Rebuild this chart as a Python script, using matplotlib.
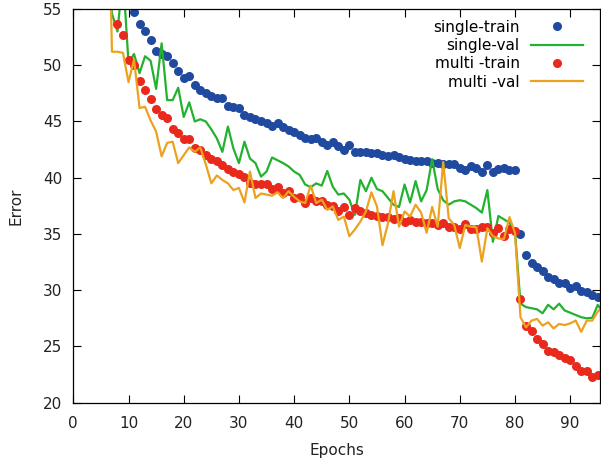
import numpy as np
import matplotlib
matplotlib.use("Agg")
import matplotlib.pyplot as plt

# ---- data ----
single_train_start = 11
single_train = [54.7, 53.7, 53.0, 52.2, 51.3, 51.0, 50.8, 50.2, 49.5, 48.9,
                49.0, 48.2, 47.8, 47.5, 47.3, 47.1, 47.1, 46.4, 46.3, 46.2,
                45.6, 45.4, 45.2, 45.0, 44.85, 44.6, 44.9, 44.55, 44.2, 44.1,
                43.8, 43.5, 43.4, 43.5, 43.2, 42.9, 43.2, 42.8, 42.5, 42.9,
                42.3, 42.3, 42.27, 42.2, 42.2, 42.0, 41.95, 42.0, 41.8, 41.65,
                41.6, 41.5, 41.5, 41.45, 41.35, 41.3, 41.25, 41.2, 41.2, 40.85,
                40.65, 41.0, 40.85, 40.55, 41.15, 40.55, 40.75, 40.85, 40.65, 40.65,
                35.0, 33.15, 32.4, 32.1, 31.7, 31.2, 31.0, 30.6, 30.6, 30.2,
                30.35, 29.9, 29.8, 29.6, 29.4]

multi_train_start = 8
multi_train = [53.7, 52.7, 50.5, 50.0, 48.6, 47.8, 47.0, 46.1, 45.6, 45.3,
               44.3, 44.0, 43.4, 43.4, 42.6, 42.5, 42.0, 41.7, 41.5, 41.1,
               40.8, 40.55, 40.3, 40.05, 39.5, 39.45, 39.4, 39.45, 39.0, 39.15,
               38.6, 38.8, 38.2, 38.3, 37.75, 38.2, 37.9, 37.9, 37.6, 37.45,
               37.0, 37.4, 36.7, 37.3, 37.0, 36.85, 36.7, 36.6, 36.5, 36.5,
               36.3, 36.4, 36.1, 36.25, 36.1, 36.1, 36.0, 36.0, 35.8, 35.95,
               35.6, 35.6, 35.4, 35.9, 35.4, 35.4, 35.6, 35.6, 35.1, 35.5,
               34.8, 35.4, 35.3, 29.2, 26.85, 26.35, 25.7, 25.25, 24.6, 24.5,
               24.2, 24.0, 23.8, 23.3, 22.8, 22.8, 22.3, 22.5]

single_val_start = 6
single_val = [60.0, 54.6, 53.0, 58.0, 50.2, 51.0, 49.3, 50.8, 50.4, 47.9,
              51.95, 46.9, 46.9, 48.0, 45.4, 46.7, 45.0, 45.2, 45.0, 44.3,
              43.5, 42.3, 44.55, 42.6, 41.3, 43.2, 41.7, 41.3, 40.1, 40.55,
              41.8, 41.55, 41.3, 41.0, 40.55, 40.25, 39.4, 39.15, 39.5, 39.3,
              40.6, 39.2, 38.5, 38.6, 38.05, 36.7, 39.8, 38.8, 40.0, 39.0,
              38.8, 38.2, 37.6, 37.4, 39.4, 37.8, 39.7, 37.9, 38.9, 41.65,
              39.0, 38.0, 37.6, 37.9, 38.0, 37.9, 37.6, 37.3, 36.9, 38.9,
              34.3, 36.6, 36.3, 36.0, 35.2, 28.8, 28.5, 28.4, 28.3, 27.95,
              28.7, 28.3, 28.8, 28.2, 28.0, 27.8, 27.6, 27.5, 27.55, 28.7,
              28.0]

multi_val_start = 6
multi_val = [75.0, 51.2, 51.2, 51.1, 48.5, 50.5, 46.2, 46.3, 45.1, 44.1,
             41.9, 43.1, 43.2, 41.3, 42.0, 42.7, 42.3, 42.7, 41.2, 39.5,
             40.2, 39.8, 39.5, 38.9, 39.1, 37.8, 40.55, 38.2, 38.6, 38.5,
             38.4, 38.7, 38.2, 38.8, 38.3, 37.9, 37.75, 39.3, 37.75, 38.05,
             37.15, 37.45, 36.25, 36.55, 34.8, 35.4, 36.1, 37.0, 38.7, 37.45,
             34.0, 35.95, 38.8, 35.65, 37.0, 36.55, 37.6, 36.9, 35.1, 37.4,
             35.65, 41.4, 36.4, 35.8, 33.75, 35.8, 35.65, 35.6, 32.55, 35.5,
             34.8, 34.6, 34.55, 36.5, 35.1, 27.6, 26.7, 27.3, 27.45, 26.85,
             27.15, 26.6, 27.0, 26.9, 27.05, 27.3, 26.3, 27.3, 27.3, 28.1,
             28.6]

x_ticks = [0, 10, 20, 30, 40, 50, 60, 70, 80, 90]
y_ticks = [20, 25, 30, 35, 40, 45, 50, 55]

def ep(start, vals):
    return np.arange(start, start + len(vals))

# ---- figure ----
fig = plt.figure(figsize=(6.01, 4.61), dpi=100)
ax = fig.add_axes([73.3 / 601, 1 - 402.7 / 461, (600 - 73.3) / 601, (402.7 - 9) / 461])

c_blue = '#1f4aa0'
c_green = '#22b22f'
c_red = '#e8291c'
c_orange = '#eca21f'

ax.plot(ep(single_train_start, single_train), single_train, 'o', color=c_blue,
        markersize=6.5, markeredgewidth=0, label='single-train')
ax.plot(ep(single_val_start, single_val), single_val, '-', color=c_green,
        lw=1.6, label='single-val')
ax.plot(ep(multi_train_start, multi_train), multi_train, 'o', color=c_red,
        markersize=6.5, markeredgewidth=0, label='multi -train')
ax.plot(ep(multi_val_start, multi_val), multi_val, '-', color=c_orange,
        lw=1.6, label='multi -val')

ax.set_xlim(0, 95.4)
ax.set_ylim(20, 55)
ax.set_xticks(x_ticks)
ax.set_yticks(y_ticks)
ax.tick_params(direction='in', length=5.8, width=0.8, top=True, right=True,
               labelsize=11, colors='black', labelcolor='#222222')
ax.tick_params(axis='x', pad=9.5)
ax.tick_params(axis='y', pad=7.8)
for s in ax.spines.values():
    s.set_linewidth(0.9)
    s.set_color('black')

ax.set_xlabel('Epochs', fontsize=11, color='#222222', labelpad=9)
ax.set_ylabel('Error', fontsize=11, color='#222222', labelpad=14)

leg = ax.legend(loc='upper right', frameon=False, markerfirst=False,
                fontsize=11, handlelength=3.4, handletextpad=0.75,
                labelspacing=0.22, borderaxespad=0.3, numpoints=1,
                bbox_to_anchor=(0.988, 1.0))

fig.savefig('out.png', dpi=100)
